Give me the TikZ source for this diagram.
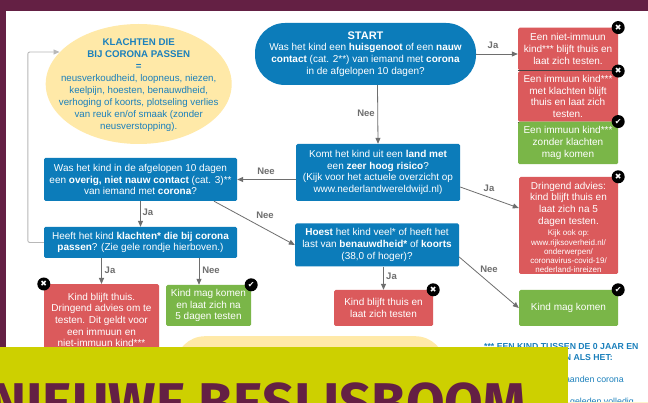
\documentclass[tikz,border=0pt]{standalone}
\usepackage{fontspec}
\setmainfont{Liberation Sans}
\newfontfamily\titlefont{Fira Sans}
\newfontfamily\symfont{DejaVu Sans}
\usetikzlibrary{arrows.meta,calc,shapes.geometric}
\definecolor{maroon}{HTML}{642044}
\definecolor{bluebox}{HTML}{0C7CBA}
\definecolor{redbox}{HTML}{DB5A5C}
\definecolor{greenbox}{HTML}{7AB648}
\definecolor{yellowbox}{HTML}{FFE9A8}
\definecolor{banner}{HTML}{CDD000}
\definecolor{bluetext}{HTML}{1B80BC}
\definecolor{linegray}{HTML}{6E6E6E}
\tikzset{
  box/.style={draw=none,rectangle,rounded corners=1.5,align=center,text=white,inner sep=0pt,font=\fontsize{10}{11.7}\selectfont},
  bluenode/.style={box,fill=bluebox},
  rednode/.style={box,fill=redbox},
  greennode/.style={box,fill=greenbox},
  conn/.style={draw=linegray,line width=0.8,-{Triangle[length=6,width=5]}},
  lbl/.style={text=linegray,font=\fontsize{9.5}{11}\bfseries\selectfont,inner sep=0pt},
  badge/.style={circle,fill=black,minimum size=13,inner sep=0pt,text=white,font=\symfont\fontsize{8}{8}\selectfont},
  bluetxt/.style={text=bluetext,inner sep=0pt,font=\fontsize{8.8}{11}\selectfont,anchor=west}
}
\begin{document}
\begin{tikzpicture}[x=1pt,y=-1pt]
\useasboundingbox (0,0) rectangle (648,403);
\fill[maroon] (0,0) rectangle (648,403);
\fill[white] (6,11) rectangle (648,403);

% nodes
\node[ellipse,fill=yellowbox,minimum width=186,minimum height=120,inner sep=0pt] (klacht) at (138.7,84) {};
\node[align=center,inner sep=0pt,text=bluetext,font=\fontsize{9.7}{11.9}\selectfont] (klachttxt) at (138.7,85) {\textbf{KLACHTEN DIE}\\\textbf{BIJ CORONA PASSEN}\\\textbf{=}\\neusverkoudheid, loopneus, niezen,\\keelpijn, hoesten, benauwdheid,\\verhoging of koorts, plotseling verlies\\van reuk en/of smaak (zonder\\neusverstopping).};

\node[bluenode,rounded corners=30,minimum width=221,minimum height=62] (start) at (365.5,54) {\textbf{\fontsize{11}{11.7}\selectfont START}\\Was het kind een \textbf{huisgenoot} of een \textbf{nauw}\\\textbf{contact} (cat. 2**) van iemand met \textbf{corona}\\in de afgelopen 10 dagen?};
\node[bluenode,minimum width=164,minimum height=57] (komt) at (378,172.5) {Komt het kind uit een \textbf{land met}\\een \textbf{zeer hoog risico}?\\(Kijk voor het actuele overzicht op\\www.nederlandwereldwijd.nl)};
\node[bluenode,minimum width=193,minimum height=43] (was) at (140.5,179.5) {Was het kind in de afgelopen 10 dagen\\een \textbf{overig, niet nauw contact} (cat. 3)**\\van iemand met \textbf{corona}?};
\node[bluenode,minimum width=193,minimum height=31] (heeft) at (140.5,242.5) {Heeft het kind \textbf{klachten* die bij corona}\\\textbf{passen}? (Zie gele rondje hierboven.)};
\node[bluenode,minimum width=164,minimum height=43] (hoest) at (377,245) {\textbf{Hoest} het kind veel* of heeft het\\last van \textbf{benauwdheid*} of \textbf{koorts}\\(38,0 of hoger)?};

\node[rednode,minimum width=100,minimum height=42.5] (r1) at (568,49) {Een niet-immuun\\kind*** blijft thuis en\\laat zich testen.};
\node[rednode,minimum width=100,minimum height=50.5] (r2) at (568,96.5) {Een immuun kind***\\met klachten blijft\\thuis en laat zich\\testen.};
\draw[black!75,line width=0.7] (r1.south west) -- (r1.south east) (r2.south west) -- (r2.south east);
\node[greennode,minimum width=100,minimum height=42.5] (g1) at (568,143) {Een immuun kind***\\zonder klachten\\mag komen};
\node[rednode,minimum width=99,minimum height=97] (r3) at (568.5,225.5) {\rule{0pt}{11pt}Dringend advies:\\kind blijft thuis en\\laat zich na 5\\dagen testen.\\[0pt]{\fontsize{8}{9.2}\selectfont Kijk ook op:}\\[-2.5pt]{\fontsize{8}{9.2}\selectfont www.rijksoverheid.nl/}\\[-2.5pt]{\fontsize{8}{9.2}\selectfont onderwerpen/}\\[-2.5pt]{\fontsize{8}{9.2}\selectfont coronavirus-covid-19/}\\[-2.5pt]{\fontsize{8}{9.2}\selectfont nederland-inreizen}};
\node[greennode,minimum width=99,minimum height=36] (g2) at (568.5,308) {Kind mag komen};
\node[rednode,minimum width=115,minimum height=76,anchor=north] (r4) at (101.5,284) {\rule{0pt}{16pt}Kind blijft thuis.\\Dringend advies om te\\testen. Dit geldt voor\\een immuun en\\niet-immuun kind***\\ \\ };
\node[greennode,minimum width=85,minimum height=41] (g3) at (208.5,305.5) {Kind mag komen\\en laat zich na\\5 dagen testen};
\node[rednode,minimum width=99,minimum height=36] (r5) at (383.5,308) {Kind blijft thuis en\\laat zich testen};

% bottom pill and footnote under the banner
\node[fill=yellowbox,rounded corners=30,minimum width=270,minimum height=62,inner sep=0pt,anchor=north west] (pill) at (175,336) {};
\node[bluetxt,font=\fontsize{8.7}{11}\bfseries\selectfont] (n1) at (484,347) {*** EEN KIND TUSSEN DE 0 JAAR EN};
\node[bluetxt,font=\fontsize{8.7}{11}\bfseries\selectfont,anchor=east] (n2) at (613,357.5) {N ALS HET:};
\node[bluetxt,anchor=east] (n3) at (624,379.5) {aanden corona};
\node[bluetxt,anchor=east] (n4) at (634,402) {geleden volledig};
\fill[yellowbox!60] (568,402) rectangle (648,403);

% connectors
\draw[conn] ([xshift=12]start.south) -- (komt.north);
\draw[conn] (start.east) -- (r1.west |- start.east);
\draw[conn] (komt.west |- was.east) -- (was.east);
\draw[conn] (was.south) -- (heeft.north);
\draw[conn] ([xshift=73.5]was.south) -- (hoest.west);
\draw[conn] ([yshift=-14.5]komt.east) -- ([yshift=17.5]r3.west);
\draw[conn] ([yshift=-12]hoest.east) -- (g2.west);
\draw[conn] ([xshift=6.5]hoest.south) -- (r5.north);
\draw[conn] ([xshift=-39]heeft.south) -- (r4.north);
\draw[conn] ([xshift=58.5]heeft.south) -- ([xshift=-9.5]g3.north);
\draw[draw=black!28,line width=0.9,rounded corners=2,-{Triangle[length=6,width=5]}] (heeft.west) -- ++(-16,0) |- ([xshift=14]klacht.west |- 0,52);

% labels
\node[lbl] (l1) at (493,45) {Ja};
\node[lbl] (l2) at (366,113) {Nee};
\node[lbl] (l3) at (266,171) {Nee};
\node[lbl] (l4) at (148,212.5) {Ja};
\node[lbl] (l5) at (265,215) {Nee};
\node[lbl] (l6) at (489,188.5) {Ja};
\node[lbl] (l7) at (489,269.5) {Nee};
\node[lbl] (l8) at (391.5,276) {Ja};
\node[lbl] (l9) at (110,270) {Ja};
\node[lbl] (l10) at (211,270) {Nee};

% badges
\node[badge] (b1) at (r1.north east) {✖};
\node[badge] (b2) at (r2.north east) {✖};
\node[badge] (b3) at (g1.north east) {✔};
\node[badge] (b4) at (r3.north east) {✖};
\node[badge] (b5) at (g2.north east) {✔};
\node[badge] (b6) at (r4.north west) {✖};
\node[badge] (b7) at (g3.north east) {✔};
\node[badge] (b8) at (r5.north east) {✖};

% banner
\fill[banner] (0,347) rectangle (568,403);
\begin{scope}
\clip (0,347) rectangle (568,403);
\node[anchor=base west,inner sep=0pt,text=maroon,font=\titlefont\fontsize{56}{56}\bfseries\selectfont] (title) at (-11,422.5) {NIEUWE BESLISBOOM};
\end{scope}
\end{tikzpicture}
\end{document}
